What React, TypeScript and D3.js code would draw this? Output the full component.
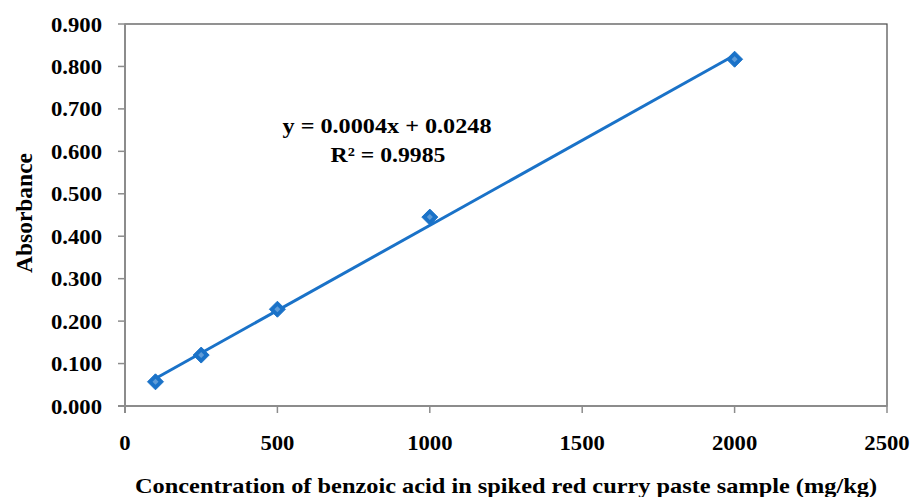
import React from "react";
import * as d3 from "d3";

const concentrations = [100, 250, 500, 1000, 2000];
const absorbances = [0.057, 0.12, 0.228, 0.445, 0.817];
const xTicks = [0, 500, 1000, 1500, 2000, 2500];
const yTicks = [0, 0.1, 0.2, 0.3, 0.4, 0.5, 0.6, 0.7, 0.8, 0.9];
const equationText = "y = 0.0004x + 0.0248";
const r2Text = "R² = 0.9985";
const xTitle = "Concentration of benzoic acid in spiked red curry paste sample (mg/kg)";
const yTitle = "Absorbance";

const W = 913;
const H = 497;
const left = 125;
const right = 887;
const top = 24;
const bottom = 406;
const FONT = "'Liberation Serif', 'Times New Roman', Times, serif";
const SX = 1.08;
const BLUE = "#1A72C8";
const AXIS = "#8c8c8c";

export default function App() {
  const x = d3.scaleLinear().domain([0, 2500]).range([left, right]);
  const y = d3.scaleLinear().domain([0, 0.9]).range([bottom, top]);

  // linear regression
  const mx = d3.mean(concentrations)!;
  const my = d3.mean(absorbances)!;
  let sxy = 0, sxx = 0;
  concentrations.forEach((c, i) => {
    sxy += (c - mx) * (absorbances[i] - my);
    sxx += (c - mx) * (c - mx);
  });
  const slope = sxy / sxx;
  const intercept = my - slope * mx;
  const x0 = d3.min(concentrations)!;
  const x1 = d3.max(concentrations)!;
  const trend = d3.line<number>().x((d) => x(d)).y((d) => y(slope * d + intercept));

  const diamond = (cx: number, cy: number, r: number) =>
    `M${cx},${cy - r}L${cx + r},${cy}L${cx},${cy + r}L${cx - r},${cy}Z`;

  const textStyle = { fontFamily: FONT, fontWeight: 700, fontSize: 21, fill: "#000" } as const;

  return (
    <svg width={W} height={H} style={{ position: "absolute", left: 0, top: 0, background: "#fff" }}>
      <rect x={0} y={0} width={W} height={H} fill="#fff" />
      {/* plot border */}
      <rect x={left} y={top} width={right - left} height={bottom - top} fill="none" stroke="#4a4a4a" strokeWidth={1.2} />
      {/* axes */}
      <line x1={left} x2={left} y1={top} y2={bottom + 7} stroke={AXIS} strokeWidth={2} />
      <line x1={left - 7} x2={right} y1={bottom} y2={bottom} stroke={AXIS} strokeWidth={2} />
      {yTicks.map((t) => (
        <g key={"y" + t}>
          <line x1={left - 7} x2={left} y1={y(t)} y2={y(t)} stroke={AXIS} strokeWidth={1.5} />
          <g transform={`translate(102,${y(t) + 7.5}) scale(${SX},1)`}>
            <text textAnchor="end" style={textStyle}>{d3.format(".3f")(t)}</text>
          </g>
        </g>
      ))}
      {xTicks.map((t) => (
        <g key={"x" + t}>
          <line x1={x(t)} x2={x(t)} y1={bottom} y2={bottom + 7} stroke={AXIS} strokeWidth={1.5} />
          <g transform={`translate(${x(t)},450) scale(${SX},1)`}>
            <text textAnchor="middle" style={textStyle}>{String(t)}</text>
          </g>
        </g>
      ))}
      {/* trendline */}
      <path d={trend([x0, x1]) || ""} fill="none" stroke={BLUE} strokeWidth={3} />
      {/* markers */}
      {concentrations.map((c, i) => (
        <g key={"m" + i}>
          <path d={diamond(x(c), y(absorbances[i]), 8)} fill={BLUE} stroke={BLUE} strokeWidth={1} />
          <path d={diamond(x(c), y(absorbances[i]), 3)} fill="#ffffff" fillOpacity={0.3} />
        </g>
      ))}
      {/* equation */}
      <text x={387} y={133} textAnchor="middle" textLength={209} lengthAdjust="spacingAndGlyphs" style={{ ...textStyle, fontSize: 22 }}>
        {equationText}
      </text>
      <text x={388} y={162} textAnchor="middle" textLength={115} lengthAdjust="spacingAndGlyphs" style={{ ...textStyle, fontSize: 22 }}>
        {r2Text}
      </text>
      {/* axis titles */}
      <text x={506} y={493} textAnchor="middle" textLength={742} lengthAdjust="spacingAndGlyphs" style={{ ...textStyle, fontSize: 22 }}>
        {xTitle}
      </text>
      <g transform={`translate(31.5,213) scale(1.1,1) rotate(-90)`}>
        <text x={0} y={0} textAnchor="middle" textLength={120} lengthAdjust="spacingAndGlyphs" style={{ ...textStyle, fontSize: 21 }}>
          {yTitle}
        </text>
      </g>
    </svg>
  );
}
